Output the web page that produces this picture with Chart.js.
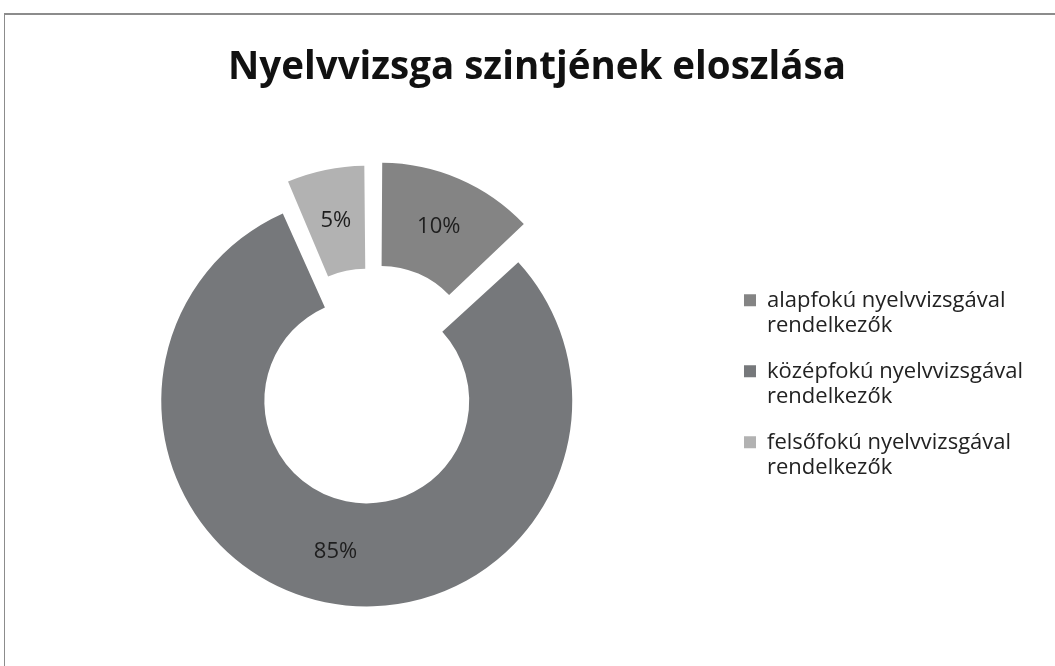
<!DOCTYPE html>
<html>
<head>
<meta charset="utf-8">
<script src="https://cdn.jsdelivr.net/npm/chart.js@4/dist/chart.umd.min.js"></script>
<style>
  html,body{margin:0;padding:0;background:#fff;overflow:hidden;width:1055px;height:666px}
  #frame{position:absolute;left:4px;top:13px;width:1100px;height:700px;border-left:1px solid #8c8c8c;border-top:2px solid #8c8c8c}
  #wrap{position:absolute;left:0;top:0;width:1055px;height:666px}
</style>
</head>
<body>
<div id="frame"></div>
<div id="wrap"><canvas id="c" width="1055" height="666"></canvas></div>
<script>
const title = "Nyelvvizsga szintjének eloszlása";
const categories = [
  ["alapfokú nyelvvizsgával", "rendelkezők"],
  ["középfokú nyelvvizsgával", "rendelkezők"],
  ["felsőfokú nyelvvizsgával", "rendelkezők"]
];
// slice sizes as drawn in the picture (angles), and the percent texts printed on them
const sliceSizes = [13, 80.5, 6.5];
const percentTexts = ["10%", "85%", "5%"];
const colors = ["#848484", "#76787b", "#b2b2b2"];
const offsets = [111, 64, 76];

// percent labels, placed at the middle of each (offset) ring piece
const sliceLabels = {
  id: "sliceLabels",
  afterDatasetsDraw(chart){
    const ctx = chart.ctx;
    const meta = chart.getDatasetMeta(0);
    ctx.save();
    ctx.font = "22px 'Open Sans'";
    ctx.fillStyle = "#1e1e1e";
    ctx.textAlign = "center";
    ctx.textBaseline = "middle";
    meta.data.forEach((arc, i) => {
      const p = arc.getProps(["x","y","startAngle","endAngle","innerRadius","outerRadius","circumference"]);
      const mid = (p.startAngle + p.endAngle) / 2;
      const off = (arc.options.offset || 0) / 4;
      const fix = 1 - Math.sin(Math.min(Math.PI, p.circumference || 0));
      const r = (p.innerRadius + p.outerRadius) / 2 + off + off * fix;
      ctx.fillText(percentTexts[i], p.x + Math.cos(mid) * r, p.y + Math.sin(mid) * r);
    });
    ctx.restore();
  }
};

// the title sits a bit right of the canvas middle, the legend a bit left
const nudge = {
  id: "nudge",
  afterLayout(chart){
    chart.titleBlock.left += 12;
    chart.titleBlock.right += 12;
    chart.legend.left -= 17;
    chart.legend.right -= 17;
  }
};

new Chart(document.getElementById("c"), {
  type: "doughnut",
  data: {
    labels: categories,
    datasets: [{
      data: sliceSizes,
      backgroundColor: colors,
      borderWidth: 0,
      offset: offsets,
      hoverOffset: 0,
      radius: 189.5,
      cutout: "45.6%"
    }]
  },
  options: {
    responsive: false,
    animation: false,
    events: [],
    layout: { padding: { top: 0, bottom: 45, left: 0, right: 5 } },
    plugins: {
      title: {
        display: true,
        text: title,
        color: "#111",
        font: { family: "'Open Sans'", size: 38.5, weight: "bold", lineHeight: 1.2 },
        padding: { top: 45, bottom: 58.4 }
      },
      legend: {
        position: "right",
        fullSize: false,
        labels: {
          color: "#222",
          font: { family: "'Open Sans'", size: 22, lineHeight: 1.136 },
          boxWidth: 12,
          boxHeight: 12,
          padding: 21
        }
      },
      tooltip: { enabled: false }
    }
  },
  plugins: [sliceLabels, nudge]
});
</script>
</body>
</html>
